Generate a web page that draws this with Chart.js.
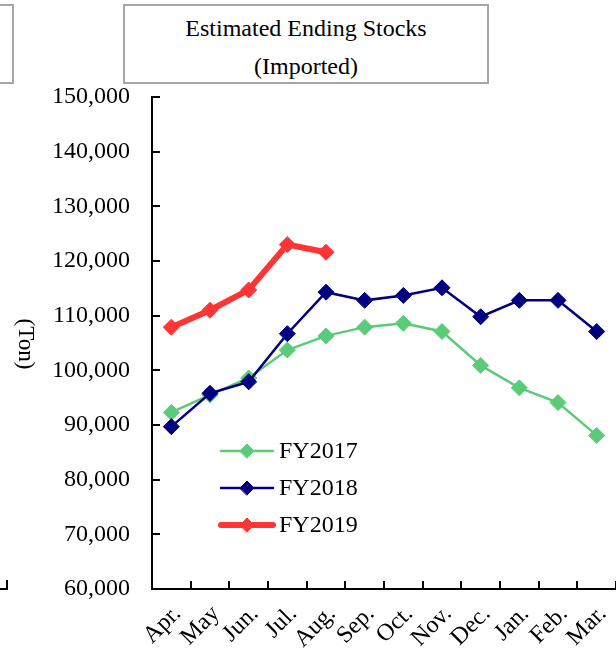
<!DOCTYPE html>
<html lang="en">
<head>
    <meta charset="UTF-8">
    <title>Estimated Ending Stocks (Imported)</title>
    <script src="https://cdn.jsdelivr.net/npm/chart.js"></script>
    <style>
        body { margin: 0; background: #fff; }
        #wrap { position: relative; width: 616px; height: 659px; overflow: hidden; font-family: "Liberation Serif", "Times New Roman", serif; }
        #myChart { position: absolute; left: 0; top: 0; }
        .box { position: absolute; border: 2px solid #a6a6a6; box-sizing: border-box; background: #fff; }
        #titleBox { left: 123px; top: 4px; width: 366px; height: 80px; text-align: center; font-size: 24px; line-height: 38px; padding-top: 3px; color: #000; }
        #leftBox { left: -40px; top: 4px; width: 54px; height: 80px; }
        #corner { position: absolute; left: -4px; top: 580px; width: 10px; height: 8px; border-right: 2px solid #000; border-bottom: 2px solid #000; }
    </style>
</head>
<body>
<div id="wrap">
    <canvas id="myChart" width="616" height="659"></canvas>
    <div class="box" id="leftBox"></div>
    <div class="box" id="titleBox">Estimated Ending Stocks<br>(Imported)</div>
    <div id="corner"></div>
</div>
<script>
    // 月（4月始まりの年度）
    const months = ['Apr.', 'May', 'Jun.', 'Jul.', 'Aug.', 'Sep.', 'Oct.', 'Nov.', 'Dec.', 'Jan.', 'Feb.', 'Mar.'];
    const fy2017 = [92300, 95500, 98600, 103700, 106300, 107900, 108600, 107100, 100900, 96800, 94100, 88100];
    const fy2018 = [89700, 95800, 97900, 106700, 114300, 112800, 113700, 115100, 109800, 112800, 112800, 107100];
    const fy2019 = [107900, 111000, 114700, 123000, 121600, null, null, null, null, null, null, null];
    const yMin = 60000, yMax = 150000, yStep = 10000;
    const yTitle = '(Ton)';

    const serif = '"Liberation Serif", "Times New Roman", serif';

    // 内向きの目盛り・縦軸タイトル・凡例を描く
    const decor = {
        id: 'decor',
        afterDraw(chart) {
            const ctx = chart.ctx;
            const area = chart.chartArea;
            const y = chart.scales.y;
            ctx.save();
            ctx.strokeStyle = '#000';
            ctx.lineWidth = 2;
            ctx.beginPath();
            y.ticks.forEach((t, i) => {
                const py = Math.round(y.getPixelForTick(i));
                ctx.moveTo(area.left, py);
                ctx.lineTo(area.left + 8, py);
            });
            const step = (area.right - area.left) / months.length;
            for (let i = 1; i <= months.length; i++) {
                const px = Math.round(area.left + i * step);
                ctx.moveTo(px, area.bottom);
                ctx.lineTo(px, area.bottom - 8);
            }
            ctx.stroke();

            // 縦軸タイトル（時計回りに回転）
            ctx.fillStyle = '#000';
            ctx.font = '23px ' + serif;
            ctx.translate(25, 344);
            ctx.rotate(Math.PI / 2);
            ctx.textAlign = 'center';
            ctx.textBaseline = 'middle';
            ctx.fillText(yTitle, 0, 0);
            ctx.restore();

            // 凡例
            ctx.save();
            [0, 1, 2].forEach((di, r) => {
                const ds = chart.data.datasets[di];
                const cy = 451 + r * 37;
                ctx.strokeStyle = ds.borderColor;
                ctx.lineWidth = ds.borderWidth;
                ctx.lineCap = 'round';
                ctx.beginPath();
                ctx.moveTo(221, cy);
                ctx.lineTo(273, cy);
                ctx.stroke();
                ctx.fillStyle = ds.pointBackgroundColor;
                ctx.strokeStyle = ds.pointBorderColor;
                ctx.lineWidth = 1;
                ctx.beginPath();
                ctx.moveTo(247 - 7, cy); ctx.lineTo(247, cy - 7); ctx.lineTo(247 + 7, cy); ctx.lineTo(247, cy + 7);
                ctx.closePath();
                ctx.fill();
                ctx.stroke();
                ctx.fillStyle = '#000';
                ctx.font = '24px ' + serif;
                ctx.textAlign = 'left';
                ctx.textBaseline = 'middle';
                ctx.fillText(ds.label, 279, cy + 1);
            });
            ctx.restore();
        }
    };

    function series(label, data, color, width, order) {
        return {
            label: label,
            data: data,
            borderColor: color,
            backgroundColor: color,
            pointBackgroundColor: color,
            pointBorderColor: color,
            borderWidth: width,
            pointStyle: 'rectRot',
            pointRadius: 8,
            pointHoverRadius: 8,
            pointBorderWidth: 1,
            tension: 0,
            fill: false,
            spanGaps: false,
            order: order
        };
    }

    const ctx = document.getElementById('myChart').getContext('2d');
    const myChart = new Chart(ctx, {
        type: 'line',
        data: {
            labels: months,
            datasets: [
                series('FY2017', fy2017, '#5ccb79', 2.5, 2),
                series('FY2018', fy2018, '#000080', 2.5, 1),
                series('FY2019', fy2019, '#ff3535', 6, 0)
            ]
        },
        options: {
            responsive: false,
            animation: false,
            layout: { autoPadding: false, padding: { top: 97, right: 0, left: 0, bottom: 0 } },
            plugins: {
                legend: { display: false },
                tooltip: { enabled: false }
            },
            scales: {
                x: {
                    offset: true,
                    grid: { display: false, drawTicks: false },
                    border: { display: true, color: '#000', width: 2 },
                    ticks: {
                        autoSkip: false,
                        minRotation: 45,
                        maxRotation: 45,
                        padding: 11,
                        labelOffset: 6,
                        color: '#000',
                        font: { family: serif, size: 24 }
                    },
                    afterFit(scale) {
                        scale.height = 70;
                        scale.paddingLeft = 0;
                        scale.paddingRight = 0;
                    }
                },
                y: {
                    min: yMin,
                    max: yMax,
                    grid: { display: false, drawTicks: false },
                    border: { display: true, color: '#000', width: 2 },
                    ticks: {
                        stepSize: yStep,
                        padding: 22,
                        color: '#000',
                        font: { family: serif, size: 24 },
                        callback: v => v.toLocaleString('en-US')
                    },
                    afterFit(scale) { scale.width = 152; }
                }
            }
        },
        plugins: [decor]
    });
</script>
</body>
</html>
